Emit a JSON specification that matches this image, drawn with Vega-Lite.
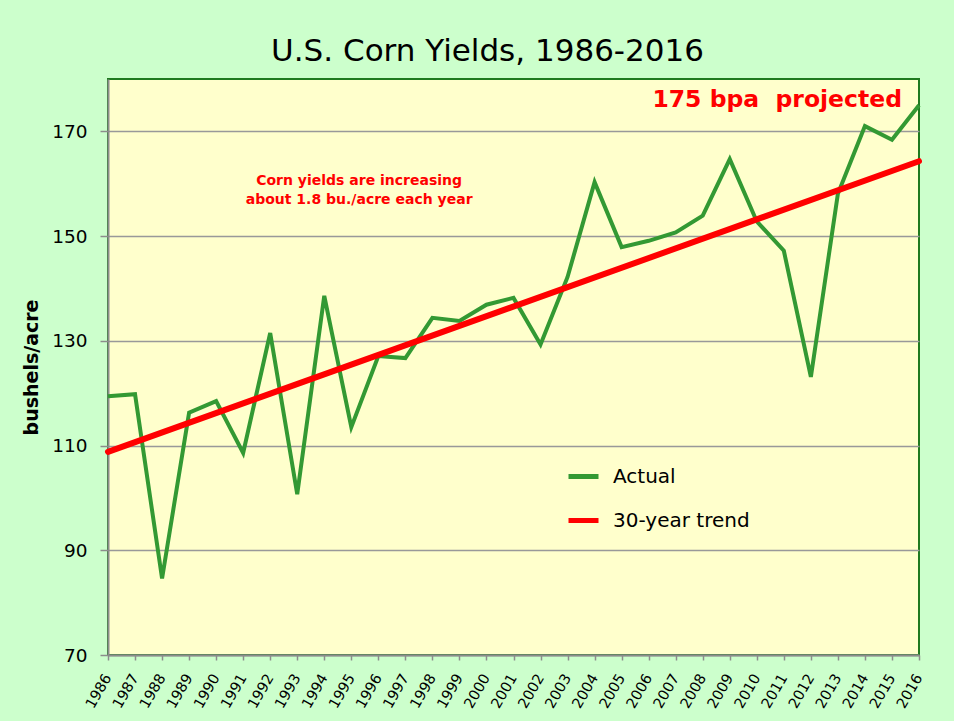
{
  "$schema": "https://vega.github.io/schema/vega-lite/v6.json",
  "width": 811,
  "height": 576,
  "autosize": {"type": "none"},
  "padding": {"left": 108, "top": 79, "right": 35, "bottom": 66},
  "background": "#ccffcc",
  "title": {
    "text": "U.S. Corn Yields, 1986-2016",
    "font": "DejaVu Sans",
    "fontSize": 31,
    "fontWeight": "normal",
    "color": "#000000",
    "anchor": "middle",
    "baseline": "alphabetic",
    "offset": 19,
    "dy": 32,
    "dx": -26
  },
  "config": {
    "font": "DejaVu Sans",
    "view": {"fill": "#ffffcc", "stroke": "#1f7a1f", "strokeWidth": 2},
    "axis": {
      "labelFont": "DejaVu Sans",
      "labelColor": "#000000",
      "domainColor": "#8c8c8c",
      "domainWidth": 2,
      "tickColor": "#8c8c8c",
      "tickWidth": 1.5,
      "gridColor": "#999999",
      "gridWidth": 1.5
    }
  },
  "datasets": {
    "actual": [
      {"year": 1986, "yield": 119.4, "series": "Actual"},
      {"year": 1987, "yield": 119.8, "series": "Actual"},
      {"year": 1988, "yield": 84.6, "series": "Actual"},
      {"year": 1989, "yield": 116.3, "series": "Actual"},
      {"year": 1990, "yield": 118.5, "series": "Actual"},
      {"year": 1991, "yield": 108.6, "series": "Actual"},
      {"year": 1992, "yield": 131.5, "series": "Actual"},
      {"year": 1993, "yield": 100.7, "series": "Actual"},
      {"year": 1994, "yield": 138.6, "series": "Actual"},
      {"year": 1995, "yield": 113.5, "series": "Actual"},
      {"year": 1996, "yield": 127.1, "series": "Actual"},
      {"year": 1997, "yield": 126.7, "series": "Actual"},
      {"year": 1998, "yield": 134.4, "series": "Actual"},
      {"year": 1999, "yield": 133.8, "series": "Actual"},
      {"year": 2000, "yield": 136.9, "series": "Actual"},
      {"year": 2001, "yield": 138.2, "series": "Actual"},
      {"year": 2002, "yield": 129.3, "series": "Actual"},
      {"year": 2003, "yield": 142.2, "series": "Actual"},
      {"year": 2004, "yield": 160.3, "series": "Actual"},
      {"year": 2005, "yield": 147.9, "series": "Actual"},
      {"year": 2006, "yield": 149.1, "series": "Actual"},
      {"year": 2007, "yield": 150.7, "series": "Actual"},
      {"year": 2008, "yield": 153.9, "series": "Actual"},
      {"year": 2009, "yield": 164.7, "series": "Actual"},
      {"year": 2010, "yield": 152.8, "series": "Actual"},
      {"year": 2011, "yield": 147.2, "series": "Actual"},
      {"year": 2012, "yield": 123.1, "series": "Actual"},
      {"year": 2013, "yield": 158.1, "series": "Actual"},
      {"year": 2014, "yield": 171.0, "series": "Actual"},
      {"year": 2015, "yield": 168.4, "series": "Actual"},
      {"year": 2016, "yield": 175.0, "series": "Actual"}
    ],
    "trend": [
      {"year": 1986, "yield": 108.8, "series": "30-year trend"},
      {"year": 2016, "yield": 164.3, "series": "30-year trend"}
    ],
    "notes": [
      {"year": 1995.29, "yield": 159.7, "kind": "slope"},
      {"year": 2015.37, "yield": 174.6, "kind": "projection"}
    ]
  },
  "encoding": {
    "x": {
      "field": "year",
      "type": "quantitative",
      "scale": {"domain": [1986, 2016], "nice": false, "zero": false},
      "axis": {
        "title": null,
        "values": [1986,1987,1988,1989,1990,1991,1992,1993,1994,1995,1996,1997,1998,1999,2000,2001,2002,2003,2004,2005,2006,2007,2008,2009,2010,2011,2012,2013,2014,2015,2016],
        "format": "d",
        "grid": false,
        "tickSize": 5,
        "labelAngle": -60,
        "labelAlign": "right",
        "labelBaseline": "middle",
        "labelFontSize": 14.5,
        "labelPadding": 15,
        "labelOverlap": false,
        "labelFlush": false,
        "labelBound": false
      }
    },
    "y": {
      "field": "yield",
      "type": "quantitative",
      "scale": {"domain": [70, 180], "nice": false, "zero": false},
      "axis": {
        "title": "bushels/acre",
        "titleFont": "DejaVu Sans",
        "titleFontSize": 19,
        "titleFontWeight": "bold",
        "titleColor": "#000000",
        "titlePadding": 10,
        "values": [70, 90, 110, 130, 150, 170],
        "grid": true,
        "tickSize": 8,
        "labelFontSize": 18.5,
        "labelPadding": 13,
        "labelFlush": false
      }
    }
  },
  "layer": [
    {
      "data": {"name": "actual"},
      "mark": {"type": "line", "strokeWidth": 4, "strokeJoin": "miter"},
      "encoding": {
        "color": {
          "field": "series",
          "type": "nominal",
          "scale": {"domain": ["Actual", "30-year trend"], "range": ["#339933", "#ff0000"]},
          "legend": {
            "title": null,
            "orient": "none",
            "legendX": 458,
            "legendY": 380,
            "symbolType": "stroke",
            "symbolSize": 900,
            "symbolStrokeWidth": 5,
            "labelFontSize": 20,
            "labelFont": "DejaVu Sans",
            "labelColor": "#000000",
            "labelOffset": 12,
            "rowPadding": 16,
            "labelLimit": 300
          }
        }
      }
    },
    {
      "data": {"name": "trend"},
      "mark": {"type": "line", "strokeWidth": 6, "strokeCap": "round"},
      "encoding": {
        "color": {"field": "series", "type": "nominal"}
      }
    },
    {
      "data": {"name": "notes"},
      "transform": [{"filter": "datum.kind === 'slope'"}],
      "mark": {
        "type": "text",
        "text": ["Corn yields are increasing", "about 1.8 bu./acre each year"],
        "font": "DejaVu Sans",
        "fontSize": 14,
        "fontWeight": "bold",
        "color": "#ff0000",
        "align": "center",
        "baseline": "alphabetic",
        "lineHeight": 19
      }
    },
    {
      "data": {"name": "notes"},
      "transform": [{"filter": "datum.kind === 'projection'"}],
      "mark": {
        "type": "text",
        "text": "175 bpa\u00a0 projected",
        "font": "DejaVu Sans",
        "fontSize": 23.5,
        "fontWeight": "bold",
        "color": "#ff0000",
        "align": "right",
        "baseline": "alphabetic"
      }
    }
  ]
}
